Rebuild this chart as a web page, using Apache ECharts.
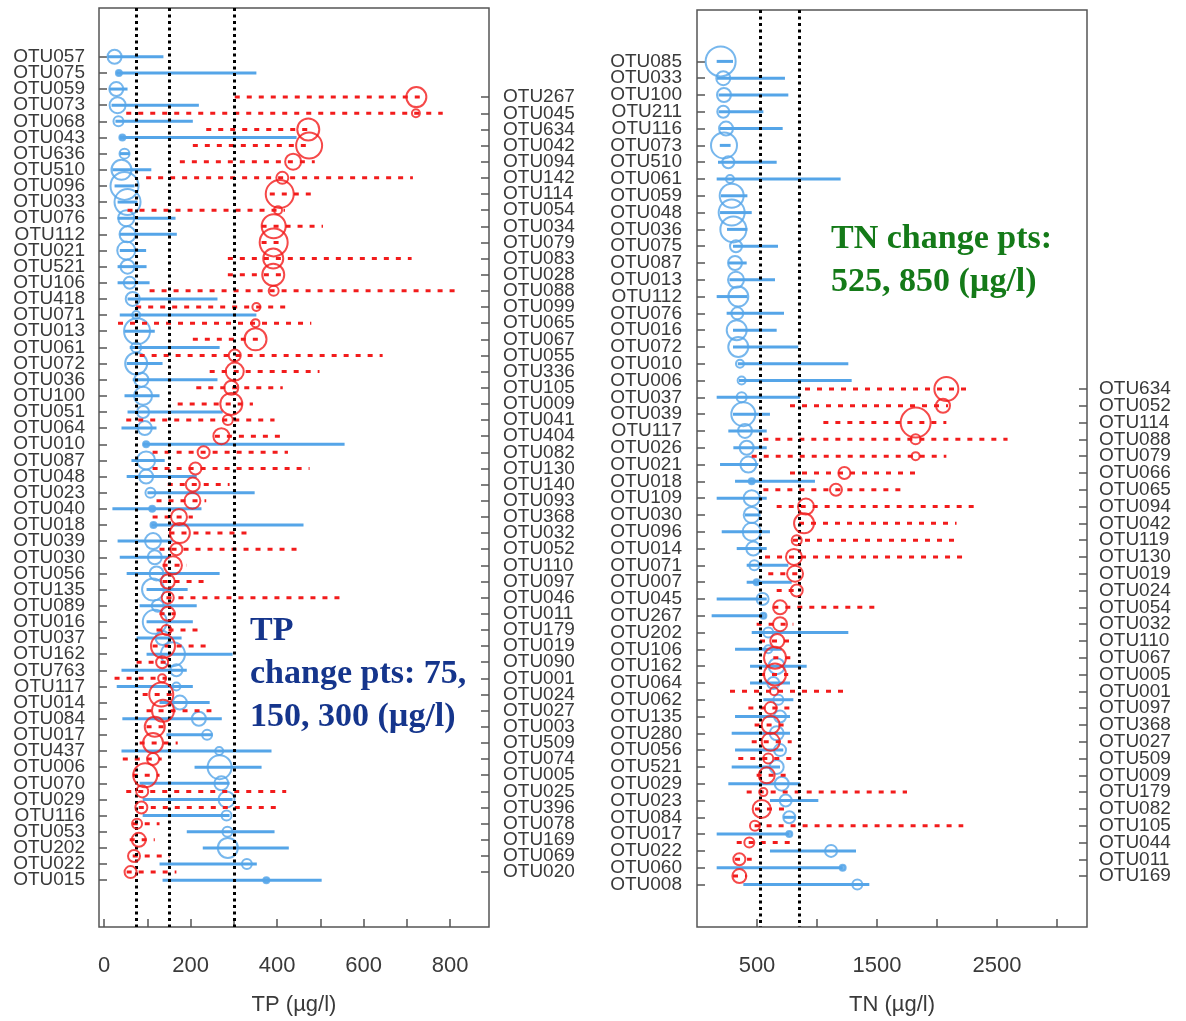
<!DOCTYPE html>
<html><head><meta charset="utf-8">
<script src="https://cdn.jsdelivr.net/npm/echarts@6/dist/echarts.min.js"></script>
<style>html,body{margin:0;padding:0;background:#fff}#c{width:1186px;height:1021px}</style>
</head><body><div id="c"></div>
<script>
// ---------------- TP panel: blue (left labels) ----------------
const tpBlueNames = ["OTU057","OTU075","OTU059","OTU073","OTU068","OTU043","OTU636","OTU510","OTU096","OTU033","OTU076","OTU112","OTU021","OTU521","OTU106","OTU418","OTU071","OTU013","OTU061","OTU072","OTU036","OTU100","OTU051","OTU064","OTU010","OTU087","OTU048","OTU023","OTU040","OTU018","OTU039","OTU030","OTU056","OTU135","OTU089","OTU016","OTU037","OTU162","OTU763","OTU117","OTU014","OTU084","OTU017","OTU437","OTU006","OTU070","OTU029","OTU116","OTU053","OTU202","OTU022","OTU015"];
const tpBlueCenter = [24,34,28,31,33,42,47,40,47,54,51,54,51,54,59,66,74,76,74,74,86,90,90,94,97,97,97,107,111,114,113,117,121,113,124,117,135,159,167,167,175,219,238,266,267,271,283,283,285,286,330,375];
const tpBlueLow = [8,29,12,17,26,36,36,19,24,31,31,36,36,31,31,54,36,47,59,52,66,47,54,40,89,63,52,100,19,110,31,36,52,98,82,98,75,98,40,29,128,42,144,40,209,82,89,89,191,228,128,135];
const tpBlueHigh = [137,352,54,219,205,445,59,109,70,77,165,168,97,98,105,262,352,117,267,135,262,128,274,121,556,140,214,348,225,461,158,151,267,193,214,205,179,297,191,205,244,272,251,387,364,290,297,290,394,427,353,503];
const tpBlueSize = [14,6,14,16,10,6,10,20,28,26,16,16,18,14,12,14,8,26,10,22,14,18,12,14,6,18,14,10,6,6,16,14,14,22,12,24,14,24,12,8,14,14,10,8,24,14,16,10,10,20,10,6];

// ---------------- TP panel: red (right labels) ----------------
const tpRedNames = ["OTU267","OTU045","OTU634","OTU042","OTU094","OTU142","OTU114","OTU054","OTU034","OTU079","OTU083","OTU028","OTU088","OTU099","OTU065","OTU067","OTU055","OTU336","OTU105","OTU009","OTU041","OTU404","OTU082","OTU130","OTU140","OTU093","OTU368","OTU032","OTU052","OTU110","OTU097","OTU046","OTU011","OTU179","OTU019","OTU090","OTU001","OTU024","OTU027","OTU003","OTU509","OTU074","OTU005","OTU025","OTU396","OTU078","OTU169","OTU069","OTU020"];
const tpRedCenter = [722,721,472,474,437,412,406,402,392,392,391,391,392,352,350,350,302,302,294,294,286,271,230,211,205,204,173,175,167,159,147,147,147,144,136,134,134,132,136,117,113,113,95,88,86,76,80,69,61];
const tpRedLow = [302,51,236,205,175,97,383,54,364,364,286,286,105,74,32,205,82,244,213,170,51,256,112,112,147,121,112,151,128,135,135,144,128,121,112,75,24,89,98,98,82,43,66,51,80,66,59,66,52];
const tpRedHigh = [730,783,480,480,487,714,487,418,506,418,711,418,811,421,479,360,644,498,413,344,394,413,425,475,290,236,205,332,452,191,237,549,165,216,248,158,144,158,248,151,170,133,128,421,410,128,117,151,167];
const tpRedSize = [20,8,22,26,16,12,28,8,24,28,20,22,10,8,8,22,12,18,14,22,10,16,12,12,14,16,16,20,12,18,14,12,14,10,24,12,8,24,22,20,20,12,24,12,12,10,14,12,12];

// ---------------- TN panel: blue (left labels) ----------------
const tnBlueNames = ["OTU085","OTU033","OTU100","OTU211","OTU116","OTU073","OTU510","OTU061","OTU059","OTU048","OTU036","OTU075","OTU087","OTU013","OTU112","OTU076","OTU016","OTU072","OTU010","OTU006","OTU037","OTU039","OTU117","OTU026","OTU021","OTU018","OTU109","OTU030","OTU096","OTU014","OTU071","OTU007","OTU045","OTU267","OTU202","OTU106","OTU162","OTU064","OTU062","OTU135","OTU280","OTU056","OTU521","OTU029","OTU023","OTU084","OTU017","OTU022","OTU060","OTU008"];
const tnBlueCenter = [197,219,225,219,242,225,261,275,289,289,303,325,317,325,344,336,331,344,358,372,372,386,400,414,428,456,456,456,456,469,478,497,547,553,594,594,664,636,678,692,664,692,664,706,739,769,769,1117,1214,1336];
const tnBlueLow = [164,167,180,180,190,190,175,164,200,192,250,300,260,270,164,247,300,300,340,350,164,300,261,303,192,317,164,400,206,331,414,414,164,122,456,317,442,442,553,317,289,317,289,261,608,720,164,608,164,386];
const tnBlueHigh = [300,733,761,553,714,280,664,1197,420,456,420,675,414,650,420,725,664,844,1261,1289,858,608,581,581,511,983,581,520,608,581,761,789,581,553,1261,706,914,775,803,775,775,719,692,858,1011,820,769,1325,1214,1436];
const tnBlueSize = [30,14,14,12,14,26,12,8,24,26,26,12,14,16,20,12,20,20,8,8,10,24,14,14,16,6,16,16,18,14,10,6,12,6,10,8,16,12,10,12,14,12,14,14,12,12,6,12,6,10];

// ---------------- TN panel: red (right labels) ----------------
const tnRedNames = ["OTU634","OTU052","OTU114","OTU088","OTU079","OTU066","OTU065","OTU094","OTU042","OTU119","OTU130","OTU019","OTU024","OTU054","OTU032","OTU110","OTU067","OTU005","OTU001","OTU097","OTU368","OTU027","OTU509","OTU009","OTU179","OTU082","OTU105","OTU044","OTU011","OTU169"];
const tnRedCenter = [2078,2050,1822,1822,1822,1228,1158,908,892,831,808,817,831,692,692,669,650,650,642,614,614,614,594,581,553,539,483,436,353,353];
const tnRedLow = [900,775,1053,553,456,775,553,664,850,800,567,594,664,636,497,525,636,525,275,428,480,456,344,497,414,483,480,331,317,300];
const tnRedHigh = [2247,2092,2078,2588,2078,1822,1708,2333,2163,2163,2219,858,858,1525,803,790,831,760,1233,789,760,789,789,775,1750,761,2219,775,456,414];
const tnRedSize = [24,14,30,10,8,12,12,16,20,10,16,16,12,14,14,14,22,22,8,12,18,18,10,16,8,18,10,10,12,14];

// change points and axis ticks
const tpChangePts = [75, 150, 300];
const tnChangePts = [525, 850];
const tpTickValues = [0,100,200,300,400,500,600,700,800];
const tpTickLabels = [0,200,400,600,800];
const tnTickValues = [500,1000,1500,2000,2500,3000];
const tnTickLabels = [500,1500,2500];

// ---------------- layout / style ----------------
const BLUE = '#55a5e8', RED = '#f21c1c';
const LABEL = '#3a3a3a', FRAME = '#555';
const SANS = 'Liberation Sans, Arial, sans-serif';
const tpRedOffset = 2.5, tnRedOffset = 19.5;
const tpRange = [-3.02, 53.9], tnRange = [-3.06, 51.53];

function rangeIdx(n){ const a=[]; for(let i=0;i<n;i++) a.push(i); return a; }

function yAxisDef(grid, names, range, offset, pos, margin){
  const mn = range[0]-offset, mx = range[1]-offset;
  // empty guard labels at both ends keep every real label visible
  const labelVals = [mn + 0.01].concat(rangeIdx(names.length), [mx - 0.01]);
  return {
    type:'value', gridIndex:grid, position:pos, inverse:true,
    min: mn, max: mx,
    axisLine:{show:false, onZero:false}, splitLine:{show:false},
    axisTick:{show:true, inside:true, length:8, lineStyle:{color:FRAME,width:1.5}, customValues:rangeIdx(names.length)},
    axisLabel:{show:true, customValues:labelVals, showMinLabel:true, showMaxLabel:true, hideOverlap:false,
      margin:margin, color:LABEL, fontSize:19, fontFamily:SANS,
      formatter:v=>{ const r = Math.round(v); return (Math.abs(v-r) < 1e-6 && names[r]) ? names[r] : ''; }}
  };
}
function xAxisDef(grid, min, max, ticks, labels, name){
  return {
    type:'value', gridIndex:grid, min:min, max:max, position:'bottom',
    axisLine:{show:false, onZero:false}, splitLine:{show:false},
    axisTick:{show:true, inside:true, length:8, lineStyle:{color:FRAME,width:1.5}, customValues:ticks},
    axisLabel:{customValues:labels, showMinLabel:true, showMaxLabel:true, margin:28, color:LABEL, fontSize:22,
      fontFamily:SANS, formatter:v=>String(v)},
    name:name, nameLocation:'middle', nameGap:67,
    nameTextStyle:{color:LABEL, fontSize:22, fontFamily:SANS}
  };
}
function lineSeries(xi, yi, low, high, color, dash, z){
  return {
    type:'custom', xAxisIndex:xi, yAxisIndex:yi, z:z, silent:true,
    data: low.map((l,i)=>[l, high[i], i]),
    encode:{x:[0,1], y:2},
    renderItem:(params, api)=>{
      const y = api.value(2);
      const p1 = api.coord([api.value(0), y]);
      const p2 = api.coord([api.value(1), y]);
      return {type:'line', shape:{x1:p1[0],y1:p1[1],x2:p2[0],y2:p2[1]},
        style:{stroke:color, lineWidth:3, lineDash:dash, lineCap:'butt'}};
    }
  };
}
function pointSeries(xi, yi, center, size, color, z){
  return {
    type:'scatter', xAxisIndex:xi, yAxisIndex:yi, z:z, silent:true,
    data: center.map((c,i)=>({value:[c, i, size[i]],
      itemStyle:{color: size[i]<=6 ? color : 'rgba(255,255,255,0)', borderColor:color, borderWidth:2}})),
    symbol:'circle', symbolSize:v=>v[2]
  };
}
function changeLines(xi, yi, pts){
  return {
    type:'scatter', xAxisIndex:xi, yAxisIndex:yi, data:[], z:10, silent:true,
    markLine:{silent:true, symbol:['none','none'], label:{show:false}, animation:false,
      lineStyle:{color:'#000', width:3, type:[3,3.5]},
      data: pts.map(p=>({xAxis:p}))}
  };
}

const chart = echarts.init(document.getElementById('c'), null, {renderer:'canvas'});
chart.setOption({
  animation:false,
  backgroundColor:'#fff',
  grid:[
    {left:99, top:8, width:390, height:930, show:true, borderColor:FRAME, borderWidth:1.5, backgroundColor:'rgba(0,0,0,0)'},
    {left:697, top:10, width:390, height:928, show:true, borderColor:FRAME, borderWidth:1.5, backgroundColor:'rgba(0,0,0,0)'}
  ],
  xAxis:[
    xAxisDef(0, -12, 890, tpTickValues, tpTickLabels, 'TP (µg/l)'),
    xAxisDef(1, 0, 3250, tnTickValues, tnTickLabels, 'TN (µg/l)')
  ],
  yAxis:[
    yAxisDef(0, tpBlueNames, tpRange, 0, 'left', 14),
    yAxisDef(0, tpRedNames, tpRange, tpRedOffset, 'right', 14),
    yAxisDef(1, tnBlueNames, tnRange, 0, 'left', 15),
    yAxisDef(1, tnRedNames, tnRange, tnRedOffset, 'right', 12)
  ],
  series:[
    lineSeries(0, 0, tpBlueLow, tpBlueHigh, BLUE, null, 2),
    pointSeries(0, 0, tpBlueCenter, tpBlueSize, BLUE, 3),
    lineSeries(0, 1, tpRedLow, tpRedHigh, RED, [5,7], 4),
    pointSeries(0, 1, tpRedCenter, tpRedSize, RED, 5),
    changeLines(0, 0, tpChangePts),
    lineSeries(1, 2, tnBlueLow, tnBlueHigh, BLUE, null, 2),
    pointSeries(1, 2, tnBlueCenter, tnBlueSize, BLUE, 3),
    lineSeries(1, 3, tnRedLow, tnRedHigh, RED, [5,7], 4),
    pointSeries(1, 3, tnRedCenter, tnRedSize, RED, 5),
    changeLines(1, 2, tnChangePts)
  ],
  graphic:[
    {type:'text', left:250, top:610, z:20, style:{text:'TP\nchange pts: 75,\n150, 300 (µg/l)',
      font:'bold 34px "Liberation Serif", "Times New Roman", serif', fill:'#15358c', lineHeight:43}},
    {type:'text', left:831, top:218, z:20, style:{text:'TN change pts:\n525, 850 (µg/l)',
      font:'bold 34px "Liberation Serif", "Times New Roman", serif', fill:'#147a18', lineHeight:43}}
  ]
});
</script></body></html>
